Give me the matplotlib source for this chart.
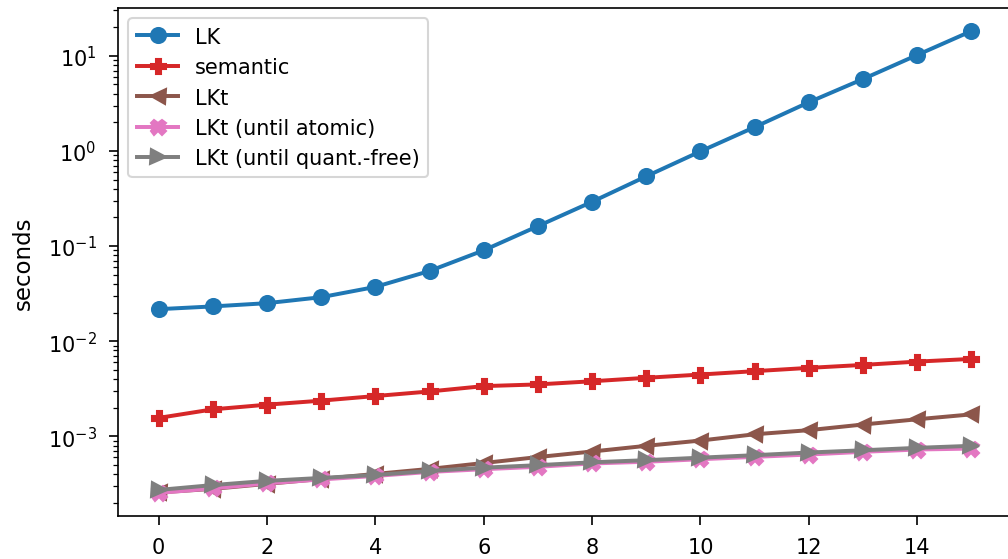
import matplotlib
matplotlib.use("Agg")
import matplotlib.pyplot as plt
import numpy as np

# problem size (x axis)
sizes = np.arange(16)

# runtimes in seconds
lk = [0.0217, 0.0232, 0.0251, 0.0290, 0.0372, 0.0547, 0.0902, 0.162,
      0.292, 0.541, 0.99, 1.78, 3.25, 5.70, 10.2, 18.2]
semantic = [0.00156, 0.00192, 0.00215, 0.00237, 0.00265, 0.00296, 0.00337,
            0.00351, 0.00379, 0.00412, 0.00446, 0.00484, 0.00524, 0.00563,
            0.00610, 0.00651]
lkt = [2.57e-4, 2.80e-4, 3.16e-4, 3.56e-4, 4.02e-4, 4.54e-4, 5.24e-4,
       6.05e-4, 6.92e-4, 7.94e-4, 9.02e-4, 1.05e-3, 1.16e-3, 1.33e-3,
       1.51e-3, 1.70e-3]
lkt_atomic = [2.54e-4, 2.83e-4, 3.20e-4, 3.52e-4, 3.83e-4, 4.22e-4, 4.51e-4,
              4.78e-4, 5.18e-4, 5.40e-4, 5.74e-4, 6.08e-4, 6.43e-4, 6.87e-4,
              7.26e-4, 7.43e-4]
lkt_qfree = [2.73e-4, 3.07e-4, 3.40e-4, 3.65e-4, 3.92e-4, 4.32e-4, 4.68e-4,
             4.97e-4, 5.33e-4, 5.61e-4, 5.96e-4, 6.33e-4, 6.75e-4, 7.13e-4,
             7.56e-4, 7.94e-4]

plt.rcParams["lines.linewidth"] = 1.9
plt.rcParams["lines.markersize"] = 7.2
plt.rcParams["xtick.major.size"] = 4.3
plt.rcParams["ytick.major.size"] = 4.3
plt.rcParams["ytick.minor.size"] = 2.4
plt.rcParams["xtick.major.pad"] = 6
plt.rcParams["ytick.major.pad"] = 6
plt.rcParams["ytick.minor.pad"] = 6

fig = plt.figure(figsize=(6.72, 3.7333), dpi=150)
# axes runs a little past the right edge, as in the cropped original
ax = fig.add_axes([118 / 1008, 43 / 560, 894 / 1008, 508 / 560])

ax.plot(sizes, lk, marker="o", color="tab:blue", label="LK")
ax.plot(sizes, semantic, marker="P", color="tab:red", label="semantic")
ax.plot(sizes, lkt, marker="<", color="tab:brown", label="LKt")
ax.plot(sizes, lkt_atomic, marker="X", color="tab:pink",
        label="LKt (until atomic)")
ax.plot(sizes, lkt_qfree, marker=">", color="tab:gray",
        label="LKt (until quant.-free)")

ax.set_yscale("log")
ax.set_ylabel("seconds", fontsize=11, labelpad=6)
ax.set_xticks(np.arange(0, 16, 2))
ax.legend(loc="upper left", fontsize=10)

fig.savefig("out.png", dpi=150)
